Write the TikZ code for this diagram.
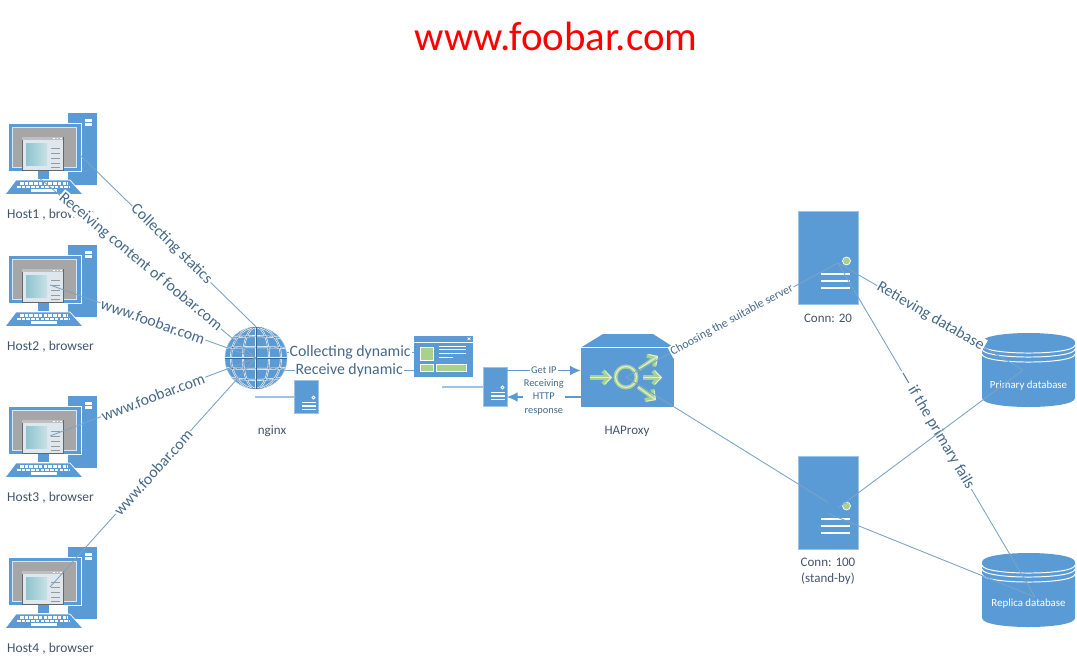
\documentclass[tikz,border=0pt]{standalone}
\usepackage{fontspec}
\setmainfont{Carlito}
\usetikzlibrary{arrows.meta,calc}
\definecolor{ink}{HTML}{44546A}
\definecolor{labelblue}{HTML}{46698A}
\definecolor{linkblue}{HTML}{7BA3C4}
\definecolor{boxblue}{HTML}{5B9BD5}
\definecolor{paleblue}{HTML}{9DC3E6}
\definecolor{leaf}{HTML}{A9D18E}
\definecolor{screengray}{HTML}{A6A6A6}
\definecolor{winpale}{HTML}{DEE6EE}
\definecolor{tealpale}{HTML}{8FC4CE}
\tikzset{
  link/.style={draw=linkblue,line width=.5pt},
  paleline/.style={draw=paleblue,line width=1pt},
  arrowline/.style={draw=boxblue,line width=.6pt,-{Latex[length=6pt,width=5.5pt]}},
  linklabel/.style={fill=white,inner sep=.6pt,font=\fontsize{9}{10}\selectfont,text=labelblue},
  tinylabel/.style={fill=white,inner sep=.6pt,font=\fontsize{5.9}{7.6}\selectfont,text=labelblue},
  hostlabel/.style={font=\fontsize{7.4}{9}\selectfont,text=ink,align=center},
  dblabel/.style={font=\fontsize{6.2}{8}\selectfont,text=white},
  serverbox/.style={fill=boxblue,draw=paleblue,line width=.3pt,inner sep=0pt},
  bar/.style={draw=white,line width=.9pt},
  flowarrow/.style={-{Straight Barb[length=3.6pt,width=7.5pt]}},
  computer/.pic={
    \fill[boxblue] (68,0) rectangle (97,72);
    \fill[white] (85,6) rectangle (92,12.5);
    \fill[boxblue] (85,8.8) rectangle (92,10);
    \filldraw[fill=boxblue,draw=white,line width=.5pt] (8,10) rectangle (81,58);
    \fill[paleblue!40] (12,14) rectangle (77,55);
    \fill[screengray] (13,15) rectangle (76,54);
    \fill[boxblue] (38,58) rectangle (49,66);
    \filldraw[fill=boxblue,draw=white,line width=.4pt] (16,67) -- (70,67) -- (83,81.5) -- (5,81.5) -- cycle;
    \draw[white,line width=1.2pt,dash pattern=on 2pt off .7pt] (20,70.5) -- (68,70.5);
    \draw[white,line width=1.2pt,dash pattern=on 2pt off .7pt] (17,74) -- (70,74);
    \draw[white,line width=1.2pt] (31,77.5) -- (57,77.5);
    \filldraw[fill=winpale,draw=black!60,line width=.5pt] (22,24) rectangle (63,57);
    \fill[black!25] (22.3,24.3) rectangle (62.7,27);
    \draw[white,line width=.6pt,dash pattern=on 1pt off 1pt] (53,25.6) -- (62,25.6);
    \shade[left color=tealpale,right color=tealpale!50!white] (26,30) rectangle (47,52);
    \foreach \ly in {35,40,45,50,54} {\draw[black!40,line width=.4pt] (51,\ly) -- (60,\ly);}
    \coordinate (-mon) at (80,42);
    \coordinate (-win) at (50,40);
    \coordinate (-stand) at (38,64);
  },
  bigserver/.pic={
    \node[serverbox,minimum width=1.2cm,minimum height=1.86cm] (-box) at (0,0) {};
    \fill[leaf,draw=white,line width=.4pt] (18.5,3.5) circle (4);
    \foreach \ly in {16.5,23.5,30.5} {\draw[bar] (-7,\ly) -- (22,\ly);}
    \coordinate (-hub) at (10,5.5);
    \coordinate (-low) at (0,11);
  },
  smallserver/.pic={
    \node[serverbox,minimum width=.48cm,minimum height=#1] (-box) at (0,0) {};
    \draw[white,line width=.5pt] (7.5,1) circle (1.6);
    \foreach \ly in {6,9.5,13} {\draw[bar,line width=.8pt] (-4,\ly) -- (9.5,\ly);}
  },
  database/.pic={
    \fill[boxblue] (0,9) -- (0,65) .. controls (0,77) and (93,77) .. (93,65) -- (93,9) .. controls (93,-3) and (0,-3) .. (0,9) -- cycle;
    \foreach \ly in {12,16,21} {\draw[white,line width=.55pt] (0,\ly) .. controls (0,\ly+10.7) and (93,\ly+10.7) .. (93,\ly);}
    \coordinate (-core) at (41,37);
    \coordinate (-core2) at (53,44);
  },
}
\begin{document}
\begin{tikzpicture}[x=.02cm,y=-.02cm]
  \useasboundingbox (0,0) rectangle (1077,663);
  \node[font=\fontsize{23.3}{28}\selectfont,text=red] (title) at (556,36) {www.foobar.com};
  % hosts
  \pic (hostA) at (0,113) {computer};
  \pic (hostB) at (0,245) {computer};
  \pic (hostC) at (0,396) {computer};
  \pic (hostD) at (0,547) {computer};
  \foreach \n/\h/\ly in {A/1/215,B/2/347,C/3/498,D/4/649}
    {\node[hostlabel,font=\fontsize{7.7}{9}\selectfont] (host\n txt) at (50.5,\ly) {Host\h\ , browser};}
  % globe
  \node[circle,fill=boxblue,draw=paleblue,line width=.3pt,minimum size=1.24cm,inner sep=0pt] (globe) at (256,358) {};
  \begin{scope}[shift={(globe.center)}]
    \clip (0,0) circle (31);
    \foreach \c/\w in {white!85!boxblue/1.1pt,black!35!boxblue/.2pt} {
      \foreach \r in {13,25} {\draw[\c,line width=\w] (0,0) ellipse (\r*.02cm and .62cm);}
      \draw[\c,line width=\w] (0,-31) -- (0,31);
      \draw[\c,line width=\w] (-31,0) -- (31,0);
      \foreach \ly in {-10,10} {\draw[\c,line width=\w] (-31,\ly) .. controls (-10,\ly*1.12) and (10,\ly*1.12) .. (31,\ly);}
      \foreach \ly in {-19,19} {\draw[\c,line width=\w] (-31,\ly) .. controls (-10,\ly*1.2) and (10,\ly*1.2) .. (31,\ly);}
    }
  \end{scope}
  % servers
  \pic (nginx) at (306,396.5) {smallserver=.66cm};
  \pic (gate) at (495,386.5) {smallserver=.78cm};
  \node[hostlabel] (nginxtxt) at (272,431.5) {nginx};
  \pic (connA) at (828,257.5) {bigserver};
  \pic (connB) at (828,502.5) {bigserver};
  \node[hostlabel] (connAtxt) at (828,318.5) {Conn: 20};
  \node[hostlabel] (connBtxt) at (828,571.5) {Conn: 100\\(stand-by)};
  % web page
  \node[fill=boxblue,minimum width=1.18cm,minimum height=.82cm,inner sep=0pt] (page) at (443.5,356.5) {};
  \begin{scope}[shift={(page.center)}]
    \draw[white,line width=.4pt] (-29.5,-14.5) -- (29.5,-14.5);
    \draw[white,line width=.4pt] (24,-19) -- (27,-16.5) (27,-19) -- (24,-16.5);
    \filldraw[fill=leaf,draw=white,line width=.4pt] (-23,-9.5) rectangle (-10.5,3.5);
    \foreach \ly/\lx in {-10/27,-7/27,-3/27,1/14} {\draw[white,line width=.6pt] (-5,\ly) -- (-5+\lx,\ly);}
    \filldraw[fill=leaf,draw=white,line width=.4pt] (-23,8) rectangle (-10.5,14.5);
    \filldraw[fill=leaf,draw=white,line width=.4pt] (-7,8) rectangle (23,14.5);
  \end{scope}
  % proxy
  \node[fill=boxblue,minimum width=1.86cm,minimum height=1.18cm,inner sep=0pt] (proxy) at (627.5,377.5) {};
  \fill[boxblue] (proxy.north west) -- (603,334) -- (653,334) -- (proxy.north east) -- cycle;
  \draw[white,line width=.5pt] (proxy.north west) -- (proxy.north east);
  \node[hostlabel] (proxytxt) at (627,431.5) {HAProxy};
  \begin{scope}[shift={(proxy.center)}]
    \foreach \c/\w in {leaf/2.3pt,leaf!35!white/.6pt} {
      \draw[\c,line width=\w] (-1.5,-.5) circle (10.5);
      \draw[flowarrow,\c,line width=\w] (-37.5,0) -- (-15.5,0);
      \draw[flowarrow,\c,line width=\w] (15.5,0) -- (34.5,0);
      \draw[flowarrow,\c,line width=\w] (11.5,-8.5) -- (30.5,-21.5);
      \draw[flowarrow,\c,line width=\w] (10.5,9.5) -- (28.5,22.5);
    }
  \end{scope}
  \coordinate (proxyhub) at (626,377);
  % databases
  \pic (dbA) at (982,333) {database};
  \pic (dbB) at (982,553) {database};
  \node[dblabel] (dbAtxt) at (1028.5,385.5) {Primary database};
  \node[dblabel] (dbBtxt) at (1028.5,604) {Replica database};
  % connectors
  \draw[link] (hostA-mon) -- node[pos=.52,sloped,linklabel] {Collecting statics} (globe.north);
  \draw[link] (hostA-stand) -- node[pos=.47,sloped,linklabel] {Receiving content of foobar.com} (globe.center);
  \draw[link] (hostB-win) -- node[midway,sloped,linklabel] {www.foobar.com} (globe.center);
  \draw[link] (hostC-win) -- node[midway,sloped,linklabel] {www.foobar.com} (globe.center);
  \draw[link] (hostD-win) -- node[midway,sloped,linklabel] {www.foobar.com} (globe.center);
  \draw[link] (globe.11) -- node[midway,linklabel] {Collecting dynamic} (globe.11 -| page.west);
  \draw[link] (globe.-23) -- node[midway,linklabel] {Receive dynamic} (globe.-23 -| page.west);
  \coordinate (nginxstub) at (255,397);
  \draw[paleline] (nginxstub) -- (nginxstub -| nginx-box.west);
  \coordinate (pagestub) at (442,387);
  \draw[paleline] (pagestub) -- (pagestub -| gate-box.west);
  \coordinate (getip) at (507,370.5);
  \coordinate (getresp) at (507,397);
  \draw[arrowline] (getip) -- node[midway,tinylabel] {Get IP} (getip -| proxy.west);
  \draw[arrowline] (getresp -| proxy.west) -- node[midway,tinylabel,align=center] {Receiving\\HTTP\\response} (getresp);
  \draw[link] (proxyhub) -- node[midway,sloped,tinylabel,font=\fontsize{6.8}{8}\selectfont] {Choosing the suitable server} (connA-hub);
  \draw[link] (proxyhub) -- (connB-box.center);
  \draw[link] (connA-hub) -- node[midway,sloped,linklabel] {Retieving database} (dbA-core);
  \draw[link] (connA-hub) -- node[midway,sloped,linklabel] {— if the primary fails} (dbB-core2);
  \draw[link] (connB-hub) -- (dbA-core);
  \draw[link] (connB-low) -- (dbB-core2);
\end{tikzpicture}
\end{document}
